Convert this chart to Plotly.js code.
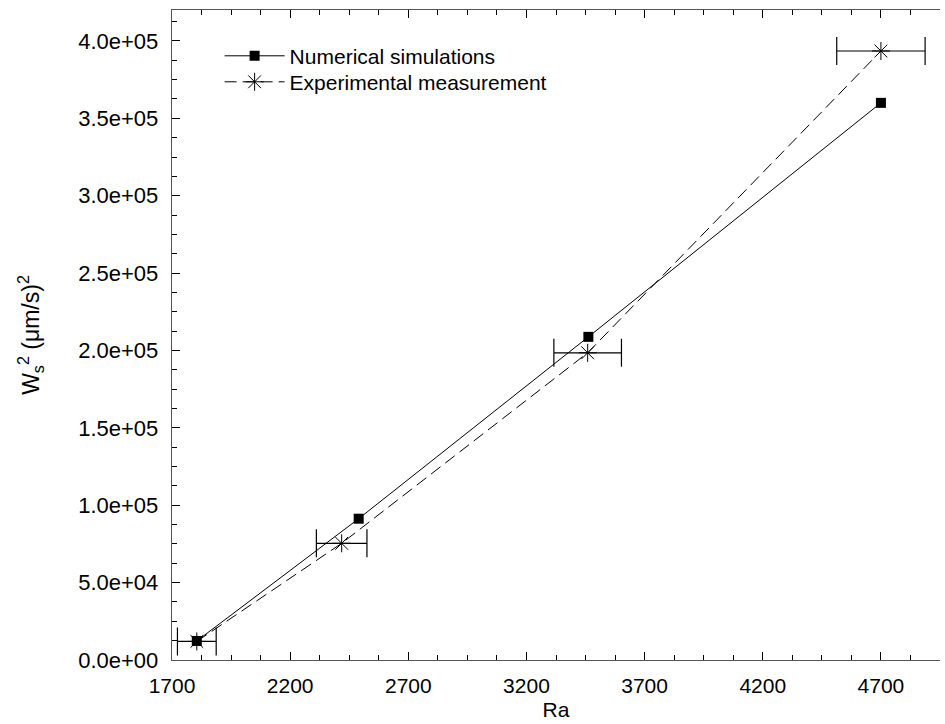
<!DOCTYPE html>
<html>
<head>
<meta charset="utf-8">
<script src="https://cdn.plot.ly/plotly-3.0.1.min.js"></script>
<style>html,body{margin:0;padding:0;background:#fff;}#chart{width:945px;height:724px;}</style>
</head>
<body>
<div id="chart"></div>
<script>
const raNum = [1805, 2490, 3462, 4700];
const w2Num = [12300, 91300, 208800, 360000];
const raExp = [1805, 2418, 3459, 4700];
const w2Exp = [12000, 75400, 198500, 393500];
const raExpErr = [82, 107, 143, 187];

const xTickVals = [1700, 2200, 2700, 3200, 3700, 4200, 4700];
const xTickText = ['1700', '2200', '2700', '3200', '3700', '4200', '4700'];
const yTickVals = [0, 50000, 100000, 150000, 200000, 250000, 300000, 350000, 400000];
const yTickText = ['0.0e+00', '5.0e+04', '1.0e+05', '1.5e+05', '2.0e+05', '2.5e+05', '3.0e+05', '3.5e+05', '4.0e+05'];

const FONT = 'Liberation Sans, Arial, Helvetica, sans-serif';

const traces = [
  {
    x: raNum, y: w2Num, name: 'Numerical simulations',
    type: 'scatter', mode: 'lines+markers', legend: 'legend',
    line: {color: '#000', width: 1},
    marker: {symbol: 'square', size: 10, color: '#000'}
  },
  {
    x: raExp, y: w2Exp, name: 'Experimental measurement',
    type: 'scatter', mode: 'lines+markers', legend: 'legend2',
    line: {color: '#000', width: 1, dash: '12px,6px'},
    marker: {symbol: 'asterisk-open', size: 15, color: '#000', line: {color: '#000', width: 1}},
    error_x: {type: 'data', array: raExpErr, visible: true, color: '#000', thickness: 1.2, width: 14}
  }
];

const legendCommon = {
  x: 0.062, xanchor: 'left', yanchor: 'middle',
  bgcolor: 'rgba(0,0,0,0)', borderwidth: 0,
  font: {family: FONT, size: 21, color: '#000'},
  itemwidth: 60
};

const layout = {
  width: 945, height: 724,
  margin: {l: 172, r: 5, t: 10, b: 64},
  paper_bgcolor: '#fff', plot_bgcolor: '#fff',
  font: {family: FONT, size: 21, color: '#000'},
  showlegend: true,
  legend: Object.assign({}, legendCommon, {y: 0.929}),
  legend2: Object.assign({}, legendCommon, {y: 0.889}),
  xaxis: {
    range: [1700, 4950],
    tickvals: xTickVals, ticktext: xTickText,
    ticks: 'inside', ticklen: 8, tickwidth: 1, tickcolor: '#000',
    minor: {dtick: 125, tick0: 1700, ticks: 'inside', ticklen: 5, tickcolor: '#000', showgrid: false},
    showline: true, linecolor: '#555', linewidth: 1.3, mirror: 'ticks',
    showgrid: false, zeroline: false,
    ticklabelstandoff: 6,
    tickfont: {family: FONT, size: 21, color: '#000'},
    title: {text: 'Ra', font: {family: FONT, size: 21, color: '#000'}, standoff: 6}
  },
  yaxis: {
    range: [0, 420000],
    tickvals: yTickVals, ticktext: yTickText,
    ticks: 'inside', ticklen: 8, tickwidth: 1, tickcolor: '#000',
    minor: {dtick: 12500, tick0: 0, ticks: 'inside', ticklen: 5, tickcolor: '#000', showgrid: false},
    showline: true, linecolor: '#555', linewidth: 1.3, mirror: false,
    showgrid: false, zeroline: false,
    ticklabelstandoff: 8,
    tickfont: {family: FONT, size: 22, color: '#000'},
    title: {text: 'W<sub>s</sub><sup>2</sup> (μm/s)<sup>2</sup>', font: {family: FONT, size: 23, color: '#000'}, standoff: 32}
  },
  yaxis2: {
    overlaying: 'y', side: 'right', range: [0, 420000],
    tickvals: yTickVals, showticklabels: false,
    ticks: 'outside', ticklen: 4, tickcolor: '#888',
    showline: false, showgrid: false, zeroline: false
  }
};

Plotly.newPlot('chart', traces, layout, {displayModeBar: false, staticPlot: true});
</script>
</body>
</html>
